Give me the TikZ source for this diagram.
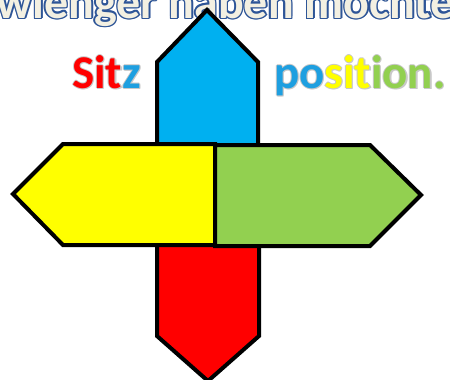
\documentclass[tikz,border=0pt]{standalone}
\usepackage{fontspec}
\setmainfont{Carlito}
\definecolor{cblue}{HTML}{00B0F0}
\definecolor{cred}{HTML}{FF0000}
\definecolor{cyel}{HTML}{FFFF00}
\definecolor{cgreen}{HTML}{92D050}
\definecolor{tblue}{HTML}{1E9FE0}
\definecolor{tline}{HTML}{2E5597}
\definecolor{tfill}{HTML}{F3F0E2}
\definecolor{glow}{HTML}{C8C8C8}
\newcommand\sitzword[2]{{\color{#1}Sit}{\color{#2}z}}
\newcommand\posword[3]{{\color{#1}po}{\color{#2}sit}{\color{#3}ion.}}
\newcommand\titlefont{\fontsize{48}{48}\selectfont\bfseries}
\newcommand\wordfont{\fontsize{47}{47}\selectfont\bfseries}
\begin{document}
\begin{tikzpicture}[x=1pt,y=-1pt,
  plate/.style={draw=black,line width=4pt,line join=miter},
  txt/.style={inner sep=0pt,outer sep=0pt}]
\useasboundingbox (0,0) rectangle (450,380);
\clip (0,0) rectangle (450,380);
% title, outlined
\foreach \dx/\dy [count=\k] in {1.5/0,-1.5/0,0/1.5,0/-1.5,1.1/1.1,-1.1/1.1,1.1/-1.1,-1.1/-1.1}
  \node[txt,anchor=base,text=tline] (tt\k) at (226+\dx,18+\dy) {\titlefont wienger haben möchte};
\node[txt,anchor=base,text=tfill] (title) at (226,18) {\titlefont wienger haben möchte};
% colored words with faint glow
\foreach \dx/\dy [count=\k] in {1/0,-1/0,0/1,0/-1,1.5/1.5}{
  \node[txt,anchor=base west] (sg\k) at (72+\dx,88+\dy) {\wordfont\sitzword{glow}{glow}};
  \node[txt,anchor=base west] (pg\k) at (274+\dx,88+\dy) {\wordfont\posword{glow}{glow}{glow}};
}
\node[txt,anchor=base west] (sitz) at (72,88) {\wordfont\sitzword{cred}{tblue}};
\node[txt,anchor=base west] (pos) at (274,88) {\wordfont\posword{tblue}{cyel}{cgreen}};
% plates
\draw[plate,fill=cblue] (157,147) -- (157,62) -- (207,10) -- (258,62) -- (258,147) -- cycle;
\draw[plate,fill=cred] (157,243) -- (157,336) -- (208,381) -- (259,336) -- (259,243) -- cycle;
\draw[plate,fill=cyel] (215,144) -- (63,144) -- (13,194) -- (63,245) -- (215,245) -- cycle;
\draw[plate,fill=cgreen] (215,145) -- (370,145) -- (421,195) -- (370,246) -- (215,246) -- cycle;
\end{tikzpicture}
\end{document}
